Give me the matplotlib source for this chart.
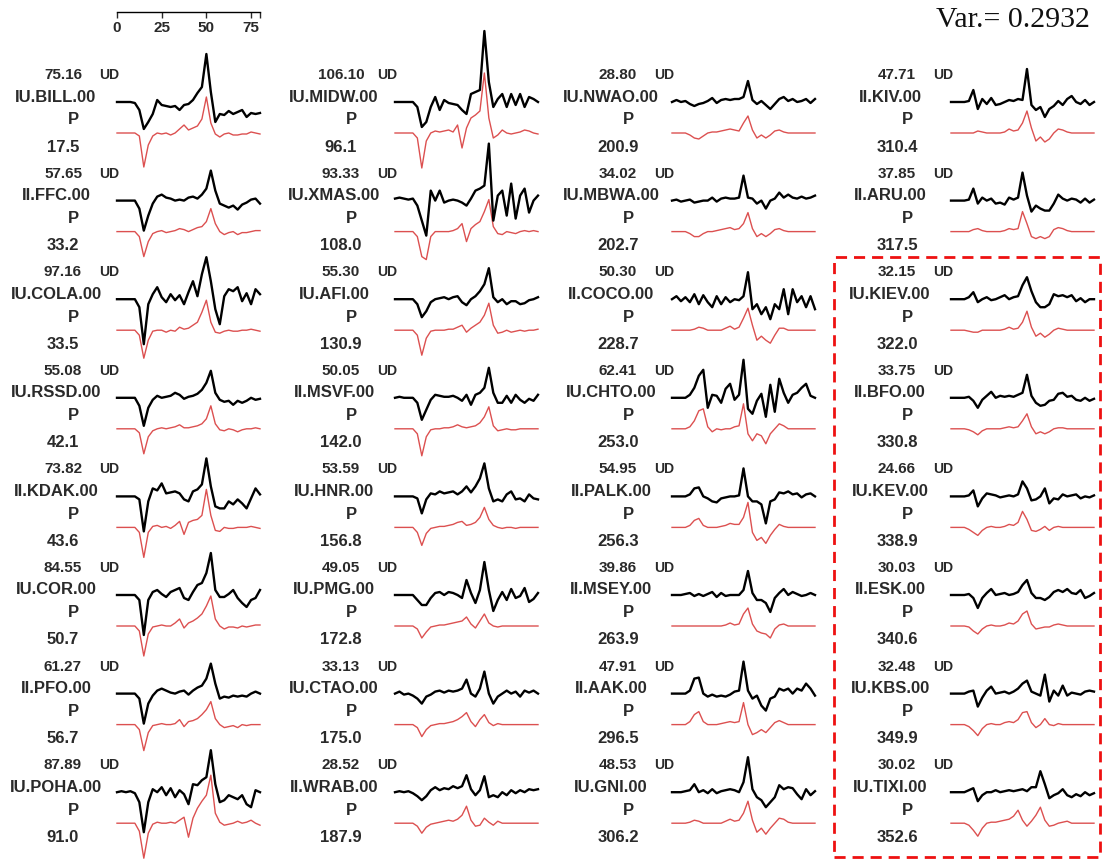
import numpy as np
import matplotlib.pyplot as plt
from matplotlib.patches import Rectangle

plt.rcParams['font.family'] = ['Liberation Sans', 'DejaVu Sans']

# 台站信息（按列排列：每列 8 个台站）
stations = ['IU.BILL.00', 'II.FFC.00', 'IU.COLA.00', 'IU.RSSD.00', 'II.KDAK.00', 'IU.COR.00', 'II.PFO.00', 'IU.POHA.00',
            'IU.MIDW.00', 'IU.XMAS.00', 'IU.AFI.00', 'II.MSVF.00', 'IU.HNR.00', 'IU.PMG.00', 'IU.CTAO.00', 'II.WRAB.00',
            'IU.NWAO.00', 'IU.MBWA.00', 'II.COCO.00', 'IU.CHTO.00', 'II.PALK.00', 'II.MSEY.00', 'II.AAK.00', 'IU.GNI.00',
            'II.KIV.00', 'II.ARU.00', 'IU.KIEV.00', 'II.BFO.00', 'IU.KEV.00', 'II.ESK.00', 'IU.KBS.00', 'IU.TIXI.00']
max_amp = ['75.16', '57.65', '97.16', '55.08', '73.82', '84.55', '61.27', '87.89',
           '106.10', '93.33', '55.30', '50.05', '53.59', '49.05', '33.13', '28.52',
           '28.80', '34.02', '50.30', '62.41', '54.95', '39.86', '47.91', '48.53',
           '47.71', '37.85', '32.15', '33.75', '24.66', '30.03', '32.48', '30.02']
azimuth = ['17.5', '33.2', '33.5', '42.1', '43.6', '50.7', '56.7', '91.0',
           '96.1', '108.0', '130.9', '142.0', '156.8', '172.8', '175.0', '187.9',
           '200.9', '202.7', '228.7', '253.0', '256.3', '263.9', '296.5', '306.2',
           '310.4', '317.5', '322.0', '330.8', '338.9', '340.6', '349.9', '352.6']

# 时间采样 (s)，每 2.5 s 一个点
t = np.arange(0, 80.1, 2.5)

obs_bill = [0,0,0,0,-1,-8,-27,-20,-12,2,-3,-4,-5,-4,-8,-3,-2,2,9,15,48,10,-20,-12,-13,-9,-12,-10,-8,-15,-11,-12,-11]
syn_bill = [0,0,0,0,0,-3,-34,-12,-3,0,-1,0,-2,0,4,8,3,5,7,14,36,10,-1,-4,-1,0,-2,-2,-1,-1,1,0,-1]
obs_ffc = [0,0,0,0,0,-8,-30,-15,-3,4,6,3,2,0,1,0,3,4,2,6,12,30,10,-3,-5,-7,-5,-9,-4,-2,1,2,-3]
syn_ffc = [0,0,0,0,0,-5,-25,-10,-2,0,1,-1,0,1,3,2,0,2,4,5,10,23,8,0,-3,-1,0,-3,-1,-1,0,1,1]
obs_cola = [0,0,0,0,0,-8,-45,-5,5,12,2,-3,5,-1,4,-5,7,18,3,25,42,18,-10,-25,3,10,8,12,-2,6,-5,10,5]
syn_cola = [0,0,0,0,0,-5,-28,-10,-1,0,0,-2,0,-1,3,1,2,5,8,18,30,8,-2,-3,-1,0,-1,-1,0,0,1,0,-1]
obs_rssd = [0,0,0,0,0,-8,-28,-10,-2,2,0,1,2,5,3,-1,1,2,4,8,15,27,5,-2,-4,-3,-7,-3,-5,-3,0,-2,-1]
syn_rssd = [0,0,0,0,0,-4,-25,-8,-2,0,1,0,1,2,4,1,1,2,3,5,10,23,5,-1,-2,0,-1,-3,-1,0,0,1,0]
obs_kdak = [0,0,0,0,0,-3,-35,-5,8,6,13,3,4,5,3,-3,-5,5,7,12,38,10,-10,-12,-12,-5,-8,-3,-7,-12,-2,8,2]
syn_kdak = [0,0,0,0,0,-5,-30,-5,1,2,0,1,-1,2,6,-7,5,7,8,12,38,12,-3,-4,0,-1,-1,0,0,0,1,0,-1]
obs_cor = [0,0,0,0,0,-5,-40,-5,3,5,1,-2,3,5,7,-3,-5,3,10,12,22,42,5,-2,-2,1,5,-3,-8,-12,-5,-3,5]
syn_cor = [0,0,0,0,0,-5,-30,-8,-1,0,1,0,0,3,7,-2,3,5,8,12,20,30,7,0,-3,-1,-1,-2,0,-1,0,1,1]
obs_pfo = [0,0,0,0,0,-5,-30,-10,-2,3,5,3,1,0,2,3,-1,3,6,8,15,30,10,-5,-3,-4,-2,-3,-2,-3,0,2,0]
syn_pfo = [0,0,0,0,0,-5,-26,-8,-1,0,1,0,0,1,5,-2,3,4,6,10,15,23,6,0,-3,-2,-1,-3,0,-1,0,0,0]
obs_poha = [0,1,0,1,-1,-10,-40,-10,3,0,5,-3,4,-5,2,-2,-12,8,7,12,15,42,8,-10,-8,-3,-5,-7,-3,-12,-15,2,0]
syn_poha = [0,0,0,0,0,-8,-35,-10,-1,1,0,0,1,0,3,6,-14,5,15,22,28,48,10,1,-2,-1,0,2,0,1,3,0,-2]

obs_midw = [0,0,0,0,0,-5,-25,-20,-5,5,-8,2,-1,-2,-3,-8,-12,8,10,12,71,20,-5,3,8,-5,8,-3,8,-5,5,3,0]
syn_midw = [0,0,0,0,0,-5,-35,-8,0,2,1,2,3,1,8,-15,5,15,18,22,60,15,-5,-2,3,0,-1,0,1,3,2,0,-1]
obs_xmas = [2,3,2,1,2,-5,-20,-35,10,0,10,-2,0,1,0,-2,-5,2,10,12,15,57,-20,5,10,-15,17,-18,5,12,-12,0,5]
syn_xmas = [0,0,0,0,0,-5,-25,-28,-5,0,0,0,0,1,3,8,-10,3,7,10,20,32,5,-2,-3,0,-1,-2,0,1,0,1,0]
obs_afi = [0,0,0,0,0,-5,-18,-12,-3,0,1,2,0,2,3,-3,-6,0,3,8,15,31,2,-3,0,-5,-2,-2,-5,-4,-1,0,2]
syn_afi = [0,0,0,0,0,-5,-25,-8,-1,0,0,0,1,1,3,5,-2,2,5,8,15,27,5,-3,-2,0,-2,-1,0,-1,0,0,1]
obs_msvf = [0,1,0,0,0,-5,-22,-12,-2,3,2,1,1,2,0,-3,3,-7,3,5,10,30,5,-5,-5,2,-5,3,-2,-5,-1,-3,3]
syn_msvf = [0,0,0,0,0,-5,-27,-8,-1,0,0,1,1,2,4,2,1,2,3,6,12,22,3,-2,-1,0,-1,-1,0,0,0,0,0]
obs_hnr = [0,0,0,0,0,-2,-17,-3,3,2,5,3,4,5,2,5,10,4,10,18,33,8,-5,-3,-5,2,5,-3,-2,-5,2,-2,-3]
syn_hnr = [0,0,0,0,0,-5,-18,-6,-1,0,1,1,2,3,5,6,2,3,5,10,20,8,2,0,-1,0,0,-1,0,0,0,0,0]
obs_pmg = [0,0,0,0,0,-5,-10,-10,-3,2,3,0,3,2,0,-3,15,2,-8,5,33,5,-16,-5,3,-5,6,-3,-1,7,-7,-4,2]
syn_pmg = [0,0,0,0,0,-3,-12,-6,-1,0,1,1,2,3,4,5,9,2,-2,5,12,3,0,-1,0,0,0,0,0,0,0,0,0]
obs_ctao = [0,2,-1,0,-2,-5,-10,-3,-1,2,3,1,3,2,3,5,14,0,-3,5,22,0,-10,-3,0,3,0,2,-3,3,1,3,0]
syn_ctao = [0,0,0,0,0,-3,-12,-5,-1,0,1,1,2,3,5,8,12,3,-2,5,10,2,-1,1,0,0,0,0,0,0,0,0,0]
obs_wrab = [0,1,0,1,-1,-4,-8,-4,2,5,2,4,3,6,4,6,17,3,-3,2,16,-5,-3,-5,0,-3,2,-1,2,0,3,2,3]
syn_wrab = [0,0,0,0,0,-3,-10,-4,-1,0,1,2,3,2,4,8,17,3,-3,-2,5,1,-2,2,0,0,0,0,0,0,0,0,0]

obs_nwao = [0,2,0,1,-2,-4,-2,-1,1,4,-1,2,3,2,3,3,5,21,2,-2,1,-3,-7,-2,3,5,1,3,0,1,3,-1,3]
syn_nwao = [0,0,0,0,-2,-5,-6,-3,0,1,1,2,3,4,3,2,10,17,3,-5,-2,-5,-2,2,3,1,0,0,0,0,0,0,0]
obs_mbwa = [0,1,-1,0,1,-2,-1,0,0,3,-1,2,3,2,2,3,25,3,2,-3,0,-8,0,2,8,3,6,3,2,4,2,3,5]
syn_mbwa = [0,0,0,0,-2,-5,-5,-2,0,0,1,2,3,4,2,3,8,19,3,-5,-2,-5,-2,2,3,1,0,0,0,0,0,0,0]
obs_coco = [0,3,-2,2,-3,5,-5,4,-3,-8,3,-5,2,-3,0,-1,3,27,-10,-5,-15,-8,-20,-5,-10,10,-15,10,-3,3,-8,3,-10]
syn_coco = [0,0,0,0,0,1,3,2,0,0,0,0,2,4,1,3,12,22,5,-10,-6,-10,-13,-5,2,2,0,0,0,0,0,0,0]
obs_chto = [0,0,0,0,3,10,22,28,-10,3,2,-5,9,14,-2,3,38,-11,-16,-3,4,-19,13,-14,19,5,-5,3,5,10,14,2,0]
syn_chto = [0,0,0,0,2,8,18,20,2,-3,0,-1,0,0,2,3,25,-5,-12,-5,-7,-15,-5,0,5,3,0,0,0,0,0,0,0]
obs_palk = [0,0,0,0,2,8,9,0,-2,-5,-6,-2,-1,0,0,1,28,0,-5,-5,-8,-27,-5,-3,4,3,5,2,3,-1,2,3,0]
syn_palk = [0,0,0,0,2,7,9,2,0,0,0,1,2,4,3,3,10,25,-5,-13,-10,-16,-8,-2,3,1,0,0,0,0,0,0,0]
obs_msey = [0,0,0,1,2,-1,1,-1,1,3,-2,2,-1,0,0,0,5,24,2,-5,-5,-8,-17,-3,2,6,0,3,1,-1,0,2,0]
syn_msey = [0,0,0,0,0,0,0,0,0,0,0,0,1,3,1,2,12,18,2,-5,-7,-8,-12,-3,1,2,0,0,0,0,0,0,0]
obs_aak = [0,0,0,0,3,15,16,0,-3,-1,-3,-2,-3,-1,2,3,32,3,-5,-2,-12,-17,-5,-3,5,3,5,0,5,3,10,5,-2]
syn_aak = [0,0,0,0,3,10,13,3,0,0,0,1,2,3,2,3,22,0,-10,-8,-5,-8,-3,2,4,2,0,0,0,0,0,0,0]
obs_gni = [0,0,0,1,2,8,0,2,-1,3,-1,1,2,3,2,0,10,35,3,-5,-8,-15,-10,-5,7,3,5,4,-2,-7,3,-3,1]
syn_gni = [0,0,0,0,1,3,2,0,0,0,0,0,2,4,2,3,10,22,3,-9,-5,-11,-5,0,5,4,1,0,0,0,0,0,0]

obs_kiv = [0,0,0,0,1,12,-7,3,-2,4,-3,-2,0,2,1,3,2,33,-3,-8,-5,-15,-7,-4,1,-3,3,6,0,-2,2,-3,0]
syn_kiv = [0,0,0,0,0,0,2,1,0,0,0,0,1,4,2,3,10,22,5,-8,-4,-9,-6,0,4,3,1,0,0,0,0,0,0]
obs_aru = [0,0,0,0,1,12,-3,3,0,2,-3,-2,-4,3,1,3,28,5,-11,-5,-8,-10,-10,-3,6,2,0,2,1,-2,2,-2,1]
syn_aru = [0,0,0,0,0,2,3,1,0,0,0,0,1,3,2,3,20,8,-5,-7,-5,-7,-5,2,4,3,1,0,0,0,0,0,0]
obs_kiev = [0,0,0,0,2,7,-3,0,2,-1,0,2,4,0,2,3,14,22,8,-3,-8,-8,-5,5,3,4,2,4,-2,1,-3,0,0]
syn_kiev = [0,0,0,0,-1,-2,-2,0,0,0,0,0,1,3,1,2,8,19,3,-6,-3,-7,-4,0,2,1,0,0,0,0,0,0,0]
obs_bfo = [0,0,0,0,1,-3,-10,-2,2,6,0,2,1,2,1,3,5,23,2,-5,-8,-7,-3,-2,4,5,1,2,-2,-3,0,-3,-1]
syn_bfo = [0,0,0,0,-1,-3,-6,-2,0,0,0,0,1,2,1,2,8,15,2,-5,-3,-5,-3,0,1,1,0,0,0,0,0,0,0]
obs_kev = [0,0,0,0,1,6,-10,-2,3,2,1,-1,0,1,0,2,15,8,-4,-3,0,8,-7,-2,-3,2,0,1,2,-2,0,-1,1]
syn_kev = [0,0,0,0,-2,-5,-8,-3,0,1,0,0,1,3,2,5,16,8,-3,-4,-2,1,-3,0,1,0,0,0,0,0,0,0,0]
obs_esk = [0,0,0,0,1,-3,-13,-3,2,6,0,1,2,0,1,3,10,15,2,-3,-3,-5,-2,3,5,3,6,2,1,5,-3,-1,2]
syn_esk = [0,0,0,0,-1,-5,-8,-3,0,1,0,0,1,3,2,5,12,15,2,-3,-2,-1,-1,1,2,1,0,0,0,0,0,0,0]
obs_kbs = [0,0,0,0,2,3,-13,-4,3,7,0,1,2,0,2,5,10,13,2,0,-2,19,-8,3,-2,8,-2,1,0,-1,2,3,2]
syn_kbs = [0,0,0,0,-2,-6,-11,-4,0,1,0,0,2,3,2,5,12,13,2,-3,0,6,0,-1,1,0,0,0,0,0,0,0,0]
obs_tixi = [0,0,0,0,2,4,-9,-3,0,0,2,0,1,2,1,2,3,1,5,5,21,8,-6,-3,-1,3,-3,-5,-2,-4,0,-3,-1]
syn_tixi = [0,0,0,0,-2,-7,-13,-5,0,1,1,2,3,4,7,13,3,-3,2,8,16,3,-3,-2,0,1,2,0,0,0,0,0,0]

obs_traces = [obs_bill, obs_ffc, obs_cola, obs_rssd, obs_kdak, obs_cor, obs_pfo, obs_poha,
              obs_midw, obs_xmas, obs_afi, obs_msvf, obs_hnr, obs_pmg, obs_ctao, obs_wrab,
              obs_nwao, obs_mbwa, obs_coco, obs_chto, obs_palk, obs_msey, obs_aak, obs_gni,
              obs_kiv, obs_aru, obs_kiev, obs_bfo, obs_kev, obs_esk, obs_kbs, obs_tixi]
syn_traces = [syn_bill, syn_ffc, syn_cola, syn_rssd, syn_kdak, syn_cor, syn_pfo, syn_poha,
              syn_midw, syn_xmas, syn_afi, syn_msvf, syn_hnr, syn_pmg, syn_ctao, syn_wrab,
              syn_nwao, syn_mbwa, syn_coco, syn_chto, syn_palk, syn_msey, syn_aak, syn_gni,
              syn_kiv, syn_aru, syn_kiev, syn_bfo, syn_kev, syn_esk, syn_kbs, syn_tixi]

# 版面 (像素)
W, H = 1104, 862
col_x0 = [117, 395, 672, 951]
trace_w = 143
row_y0, row_dy = 75, 98.6
txt = '#2a2a2a'

fig = plt.figure(figsize=(W / 100, H / 100), dpi=100)


def fx(x):
    return x / W


def fy(y):
    return 1 - y / H


for i, name in enumerate(stations):
    c, r = divmod(i, 8)
    x0 = col_x0[c]
    yr = row_y0 + r * row_dy
    ax = fig.add_axes([fx(x0), fy(yr + 95), trace_w / W, 140 / H])
    ax.set_xlim(0, 80)
    ax.set_ylim(-95, 45)
    ax.axis('off')
    ax.plot(t, np.array(syn_traces[i]) - 59, color='#dc5050', lw=1.0, clip_on=False)
    ax.plot(t, np.array(obs_traces[i]) - 28, color='black', lw=1.7, clip_on=False)

    fig.text(fx(x0 - 54), fy(yr), max_amp[i], ha='center', va='center', fontsize=11, weight='bold', color=txt)
    fig.text(fx(x0 - 18), fy(yr), 'UD', ha='left', va='center', fontsize=10, weight='bold', color=txt)
    fig.text(fx(x0 - 61), fy(yr + 22), name, ha='center', va='center', fontsize=12, weight='bold', color=txt)
    fig.text(fx(x0 - 44), fy(yr + 45), 'P', ha='center', va='center', fontsize=12, weight='bold', color=txt)
    fig.text(fx(x0 - 54), fy(yr + 72), azimuth[i], ha='center', va='center', fontsize=12, weight='bold', color=txt)

# 时间比例尺
sax = fig.add_axes([fx(117), fy(13), trace_w / W, 0.001])
sax.set_xlim(0, 80)
for s in ['top', 'left', 'right']:
    sax.spines[s].set_visible(False)
sax.spines['bottom'].set_linewidth(1.0)
sax.set_yticks([])
sax.set_xticks([0, 25, 50, 75])
sax.set_xticks([80], minor=True)
sax.tick_params(axis='x', which='both', direction='out', length=4, width=1.0, pad=1.5,
                labelsize=11, colors=txt)
for lab in sax.get_xticklabels():
    lab.set_fontweight('bold')

# 方差缩减
fig.text(fx(1090), fy(20), 'Var.= 0.2932', ha='right', va='center', fontsize=21.5,
         family='Liberation Serif', color='#111111')

# 红色虚线框
fig.add_artist(Rectangle((fx(834), fy(858)), 266 / W, 600 / H, transform=fig.transFigure,
                         fill=False, ec='#ee1111', lw=2.0, ls=(0, (4, 2.5))))

plt.savefig('out.png', dpi=100)
